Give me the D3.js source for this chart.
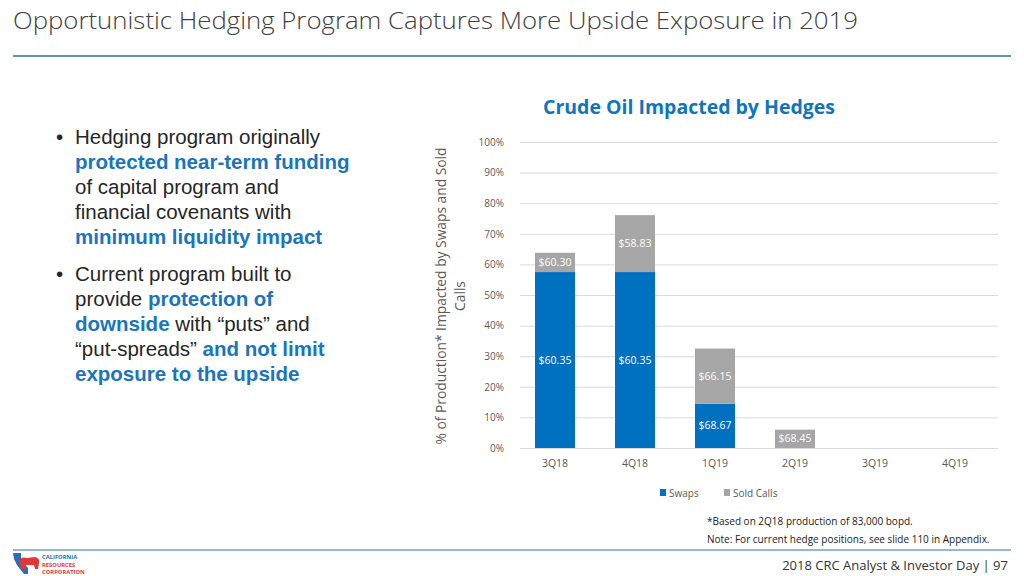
<!DOCTYPE html>
<html>
<head>
<meta charset="utf-8">
<script src="https://cdn.jsdelivr.net/npm/d3@7"></script>
<style>
  body { margin: 0; background: #fff; }
  svg { display: block; }
  text { font-family: "Open Sans", "DejaVu Sans", sans-serif; }
  .bul { font-family: "Liberation Sans", Arial, sans-serif; font-size: 20.5px; fill: #262626; }
  .hl { fill: #1a75bc; font-weight: bold; }
</style>
</head>
<body>
<svg id="slide" width="1024" height="576"></svg>
<script>
// chart data
const quarters = ["3Q18", "4Q18", "1Q19", "2Q19", "3Q19", "4Q19"];
const swaps = [57.5, 57.5, 14.5, 0, 0, 0];
const soldCalls = [6.3, 18.6, 18.0, 6.0, 0, 0];
const swapPrices = ["$60.35", "$60.35", "$68.67", "", "", ""];
const callPrices = ["$60.30", "$58.83", "$66.15", "$68.45", "", ""];
const yTicks = [0, 10, 20, 30, 40, 50, 60, 70, 80, 90, 100];
const seriesNames = ["Swaps", "Sold Calls"];
const seriesColors = ["#0070c0", "#a6a6a6"];

const svg = d3.select("#slide");

// slide header
svg.append("text")
    .attr("x", 13).attr("y", 29)
    .attr("font-size", 24).attr("font-weight", 300).attr("fill", "#404040")
    .attr("textLength", 845).attr("lengthAdjust", "spacingAndGlyphs")
    .text("Opportunistic Hedging Program Captures More Upside Exposure in 2019");

svg.append("line")
    .attr("x1", 13).attr("x2", 1011).attr("y1", 56).attr("y2", 56)
    .attr("stroke", "#2b72a3").attr("stroke-width", 1.5);

// bullets
const bullets = [
    [[["Hedging program originally", false]],
     [["protected near-term funding", true]],
     [["of capital program and", false]],
     [["financial covenants with", false]],
     [["minimum liquidity impact", true]]],
    [[["Current program built to", false]],
     [["provide ", false], ["protection of", true]],
     [["downside", true], [" with \u201cputs\u201d and", false]],
     [["\u201cput-spreads\u201d ", false], ["and not limit", true]],
     [["exposure to the upside", true]]]
];
const bulletTop = [144, 281];
bullets.forEach((lines, bi) => {
    svg.append("text").attr("class", "bul")
        .attr("x", 56).attr("y", bulletTop[bi]).text("\u2022");
    lines.forEach((parts, li) => {
        const t = svg.append("text").attr("class", "bul")
            .attr("x", 75).attr("y", bulletTop[bi] + li * 25);
        parts.forEach(p => {
            t.append("tspan").attr("class", p[1] ? "hl" : null).text(p[0]);
        });
    });
});

// chart
const x = d3.scaleBand().domain(quarters).range([515, 995]).paddingInner(0.5).paddingOuter(0.25);
const y = d3.scaleLinear().domain([0, 100]).range([448, 142]);

svg.append("text")
    .attr("x", 689).attr("y", 114).attr("text-anchor", "middle")
    .attr("font-family", "'Liberation Sans Narrow', 'Roboto', sans-serif")
    .attr("font-size", 20).attr("font-weight", "bold").attr("fill", "#0f75bc")
    .attr("textLength", 292).attr("lengthAdjust", "spacingAndGlyphs")
    .text("Crude Oil Impacted by Hedges");

const yAxis = svg.append("g")
    .attr("transform", "translate(520,0)")
    .call(d3.axisLeft(y).tickValues(yTicks).tickSize(-478).tickPadding(16)
        .tickFormat(d => d + "%"));
yAxis.select(".domain").remove();
yAxis.selectAll(".tick line").attr("stroke", "#d9d9d9");
yAxis.selectAll(".tick text").attr("fill", "#595959").attr("font-size", 10)
    .attr("font-family", "'Open Sans', sans-serif");

svg.append("text")
    .attr("transform", "translate(446,296) rotate(-90)")
    .attr("text-anchor", "middle").attr("font-size", 13.8).attr("fill", "#595959")
    .call(t => {
        t.append("tspan").attr("x", 0).attr("dy", 0).text("% of Production* Impacted by Swaps and Sold");
        t.append("tspan").attr("x", 0).attr("dy", 19).text("Calls");
    });

const xAxis = svg.append("g")
    .attr("transform", "translate(0,448)")
    .call(d3.axisBottom(x).tickSize(0).tickPadding(12));
xAxis.select(".domain").remove();
xAxis.selectAll(".tick text").attr("fill", "#595959").attr("font-size", 10.5)
    .attr("font-family", "'Open Sans', sans-serif");

const rows = quarters.map((q, i) => ({ q: q, Swaps: swaps[i], "Sold Calls": soldCalls[i], i: i }));
const stacked = d3.stack().keys(seriesNames)(rows);
const labels = [swapPrices, callPrices];

const layers = svg.append("g").selectAll("g")
    .data(stacked).join("g")
    .attr("fill", (d, i) => seriesColors[i]);

layers.selectAll("rect")
    .data(d => d.filter(p => p[1] > p[0]))
    .join("rect")
    .attr("x", d => x(d.data.q))
    .attr("width", x.bandwidth())
    .attr("y", d => y(d[1]))
    .attr("height", d => y(d[0]) - y(d[1]));

layers.each(function (layer, si) {
    d3.select(this).selectAll("text")
        .data(layer.filter(p => p[1] > p[0]))
        .join("text")
        .attr("x", d => x(d.data.q) + x.bandwidth() / 2)
        .attr("y", d => (y(d[0]) + y(d[1])) / 2)
        .attr("dy", "0.35em")
        .attr("text-anchor", "middle")
        .attr("font-size", 10.5).attr("fill", "#fff")
        .text(d => labels[si][d.data.i]);
});

// legend
const legend = svg.append("g").attr("transform", "translate(660,493)");
const legendX = [0, 64];
seriesNames.forEach((name, i) => {
    const g = legend.append("g").attr("transform", `translate(${legendX[i]},0)`);
    g.append("rect").attr("x", 0).attr("y", -4).attr("width", 6).attr("height", 7).attr("fill", seriesColors[i]);
    g.append("text").attr("x", 9).attr("y", 0).attr("dy", "0.35em")
        .attr("font-size", 10).attr("fill", "#595959").text(name);
});

// footnotes
const notes = ["*Based on 2Q18 production of 83,000 bopd.",
               "Note: For current hedge positions, see slide 110 in Appendix."];
notes.forEach((n, i) => {
    svg.append("text").attr("x", 707).attr("y", 525 + i * 18)
        .attr("font-family", "'Liberation Sans Narrow', 'Liberation Sans', sans-serif")
        .attr("font-size", 10).attr("fill", "#1a1a1a").text(n);
});

svg.append("line")
    .attr("x1", 13).attr("x2", 1011).attr("y1", 550).attr("y2", 550)
    .attr("stroke", "#2b72a3").attr("stroke-width", 1.2);

// logo
const logo = svg.append("g").attr("transform", "translate(13,553)");
logo.append("path")
    .attr("d", "M0,0 L8,0 L8,7 L15,15 L15,21 L11,21 L4,12 L1,6 Z")
    .attr("fill", "#2a6db5");
logo.append("path")
    .attr("d", "M6,8 Q8,3 14,5 L22,4 Q27,5 26,10 L25,16 L22,16 L21,12 L13,12 L12,16 L9,16 Q7,12 6,8 Z")
    .attr("fill", "#e0373b");
const logoText = [["CALIFORNIA", "#2a6db5"], ["RESOURCES", "#e0373b"], ["CORPORATION", "#e0373b"]];
logoText.forEach((l, i) => {
    logo.append("text").attr("x", 29).attr("y", 6 + i * 7.5)
        .attr("font-size", 5.8).attr("font-weight", "bold").attr("fill", l[1])
        .attr("font-family", "'Liberation Sans Narrow', 'Liberation Sans', sans-serif")
        .text(l[0]);
});

svg.append("text")
    .attr("x", 1008).attr("y", 570).attr("text-anchor", "end")
    .attr("font-family", "'Liberation Sans Narrow', 'Liberation Sans', sans-serif")
    .attr("font-size", 13).attr("fill", "#333")
    .text("2018 CRC Analyst & Investor Day  |  97");
</script>
</body>
</html>
